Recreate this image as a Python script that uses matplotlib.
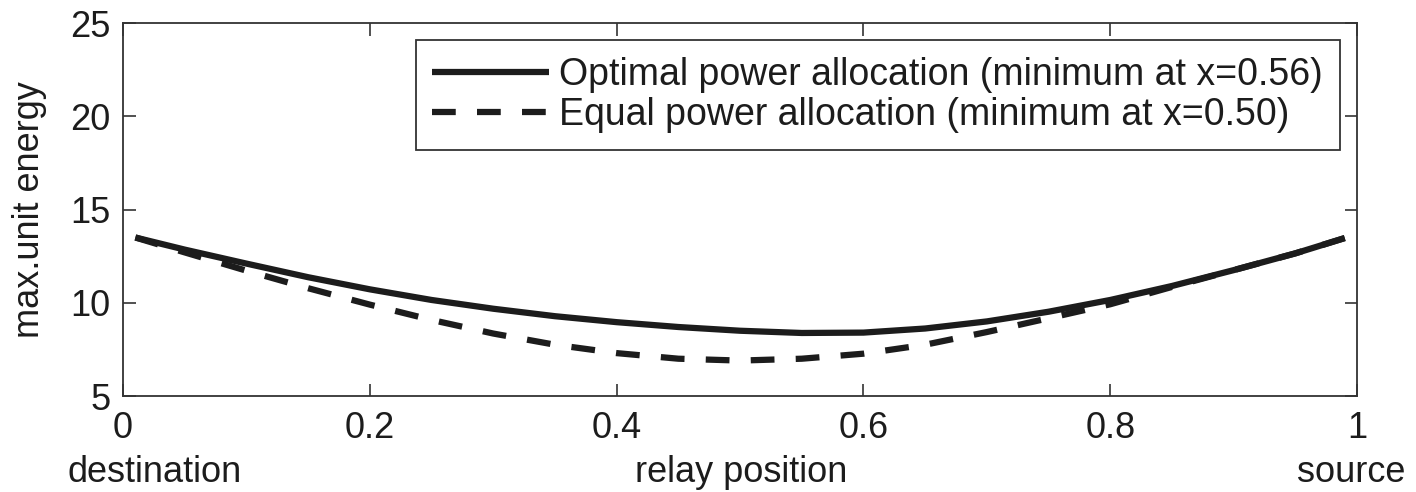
import matplotlib
matplotlib.use("Agg")
import matplotlib.pyplot as plt

# relay position (0 = destination, 1 = source)
relay_pos = [0.01, 0.05, 0.10, 0.15, 0.20, 0.25, 0.30, 0.35, 0.40, 0.45, 0.50,
             0.55, 0.60, 0.65, 0.70, 0.75, 0.80, 0.85, 0.90, 0.95, 0.99]

# max. unit energy, optimal power allocation
energy_optimal = [13.5, 12.85, 12.1, 11.37, 10.72, 10.15, 9.68, 9.28, 8.96, 8.7, 8.5,
                  8.38, 8.4, 8.62, 9.0, 9.52, 10.15, 10.9, 11.75, 12.65, 13.47]

# max. unit energy, equal power allocation
energy_equal = [13.5, 12.7, 11.72, 10.78, 9.9, 9.08, 8.35, 7.75, 7.3, 7.0, 6.9,
                7.0, 7.27, 7.75, 8.43, 9.17, 9.92, 10.85, 11.75, 12.65, 13.47]

labels = ["Optimal power allocation (minimum at x=0.56)",
          "Equal power allocation (minimum at x=0.50)"]
x_ticks = [0, 0.2, 0.4, 0.6, 0.8, 1]
y_ticks = [5, 10, 15, 20, 25]

plt.rcParams['font.family'] = ['Liberation Sans', 'DejaVu Sans']
fs = 26
ink = '#1c1c1c'

fig = plt.figure(figsize=(14.16, 4.92), dpi=100)
ax = fig.add_axes([0.0869, 0.1951, 0.8715, 0.7581])

ax.plot(relay_pos, energy_optimal, color=ink, lw=4.5, solid_capstyle='butt',
        label=labels[0])
ax.plot(relay_pos, energy_equal, color=ink, lw=4.5, linestyle=(0, (3.8, 3.4)),
        dash_capstyle='butt', label=labels[1])

ax.set_xlim(0, 1)
ax.set_ylim(5, 25)
ax.set_xticks(x_ticks)
ax.set_xticklabels(['0', '0.2', '0.4', '0.6', '0.8', '1'])
ax.set_yticks(y_ticks)
ax.tick_params(direction='in', length=9, width=1.2, color='#333333',
               top=True, right=True, labelsize=fs, labelcolor=ink)
ax.tick_params(axis='y', pad=9)
ax.tick_params(axis='x', pad=11)
for s in ax.spines.values():
    s.set_linewidth(1.3)
    s.set_color('#333333')

ax.set_ylabel("max.unit energy", fontsize=fs, color=ink)
ax.yaxis.set_label_coords(-0.062, 0.5)

fig.text(0.048, 0.02, "destination", fontsize=fs, color=ink, ha='left', va='baseline')
fig.text(0.5234, 0.02, "relay position", fontsize=fs, color=ink, ha='center', va='baseline')
fig.text(0.9545, 0.02, "source", fontsize=fs, color=ink, ha='center', va='baseline')

leg = ax.legend(loc='upper right', bbox_to_anchor=(0.986, 0.954), borderaxespad=0,
                fontsize=27, fancybox=False, framealpha=1, edgecolor='#333333',
                handlelength=3.1, handletextpad=0.28, labelspacing=0.1,
                borderpad=0.45)
leg.get_frame().set_linewidth(1.3)
for t in leg.get_texts():
    t.set_color(ink)

fig.savefig("out.png", dpi=100)
